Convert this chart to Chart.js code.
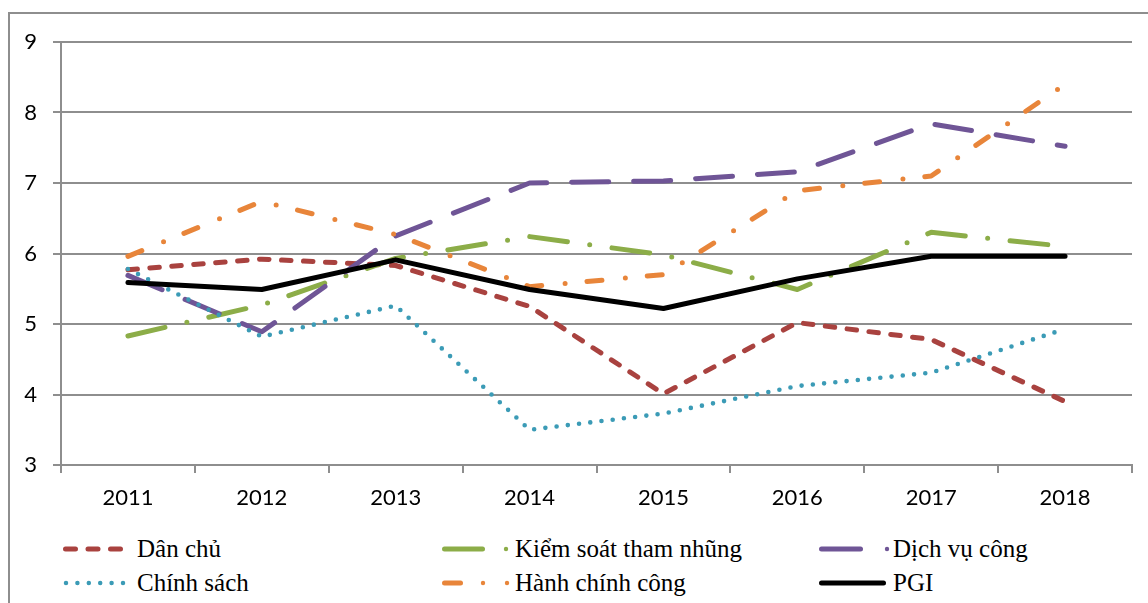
<!DOCTYPE html>
<html>
<head>
<meta charset="utf-8">
<script src="https://cdn.jsdelivr.net/npm/chart.js@4.4.1/dist/chart.umd.min.js"></script>
<style>
html,body{margin:0;padding:0;background:#fff;}
#wrap{position:relative;width:1148px;height:603px;overflow:hidden;}
#frame{position:absolute;left:8px;top:12px;width:1200px;height:700px;border-left:2px solid #8e8e8e;border-top:2px solid #8e8e8e;}
#box{position:absolute;left:0;top:0;width:1148px;height:520px;}
.item{position:absolute;height:34px;line-height:34px;font-family:"Liberation Serif","Times New Roman",serif;font-size:25px;color:#000;white-space:nowrap;}
</style>
</head>
<body>
<div id="wrap">
  <div id="frame"></div>
  <div id="box"><canvas id="c"></canvas></div>
  <div id="legend"></div>
</div>
<script>
// data
const years = ['2011', '2012', '2013', '2014', '2015', '2016', '2017', '2018'];
const danChu     = [5.77, 5.92, 5.83, 5.25, 4.01, 5.02, 4.78, 3.90];
const kiemSoat   = [4.83, 5.27, 5.93, 6.24, 5.98, 5.49, 6.30, 6.10];
const dichVu     = [5.69, 4.89, 6.25, 7.00, 7.03, 7.16, 7.84, 7.52];
const chinhSach  = [5.78, 4.82, 5.26, 3.50, 3.73, 4.12, 4.31, 4.93];
const hanhChinh  = [5.96, 6.74, 6.27, 5.53, 5.70, 6.89, 7.10, 8.40];
const pgi        = [5.59, 5.49, 5.91, 5.49, 5.22, 5.64, 5.96, 5.96];
const yTicks = [3, 4, 5, 6, 7, 8, 9];

const names = ['Dân chủ', 'Kiểm soát tham nhũng', 'Dịch vụ công', 'Chính sách', 'Hành chính công', 'PGI'];
const values = [danChu, kiemSoat, dichVu, chinhSach, hanhChinh, pgi];

// styles
const colors = ['#A9423F', '#8CAD48', '#6F5596', '#3B9BB6', '#E8853A', '#000000'];
const widths = [5, 5, 5, 4.6, 5, 5];
const dashes = [[9.5, 12.5], [38, 22.5, 0, 22.5], [37, 25], [0, 11.3], [15, 23.5, 0, 22], []];

const gridColor = '#8e8e8e';

const datasets = names.map((n, i) => ({
  label: n,
  data: values[i],
  borderColor: colors[i],
  backgroundColor: colors[i],
  borderWidth: widths[i],
  borderDash: dashes[i],
  borderCapStyle: 'round',
  borderJoinStyle: 'round',
  pointRadius: 0,
  tension: 0,
  fill: false,
  order: names.length - i
}));

new Chart(document.getElementById('c'), {
  type: 'line',
  data: { labels: years, datasets },
  options: {
    responsive: true,
    maintainAspectRatio: false,
    animation: false,
    layout: { padding: { top: 42, right: 16, left: 0, bottom: 0 } },
    plugins: { legend: { display: false }, tooltip: { enabled: false } },
    scales: {
      x: {
        offset: true,
        grid: { offset: true, drawOnChartArea: false, drawTicks: true, tickLength: 8, color: gridColor, lineWidth: 2 },
        border: { color: gridColor, width: 2 },
        ticks: { color: '#000', padding: 12, maxRotation: 0, font: { family: 'Lato', size: 22 } },
        afterFit: s => { s.height = 55; }
      },
      y: {
        min: 3, max: 9,
        afterBuildTicks: s => { s.ticks = yTicks.map(v => ({ value: v })); },
        grid: { color: gridColor, lineWidth: 2, tickLength: 8 },
        border: { color: gridColor, width: 2 },
        ticks: { color: '#000', padding: 16, font: { family: 'Lato', size: 22 } },
        afterFit: s => { s.width = 61; }
      }
    }
  }
});

// legend, 3 columns x 2 rows like the original
const colX = [63, 442, 819];
const textX = [137, 515, 893];
const rowTop = [532, 566];
const samples = [
  { lines: [[2.5, 59.5, '10 12.5']], dots: [] },
  { lines: [[2.5, 40.5, '']], dots: [64] },
  { lines: [[2.5, 41.5, '']], dots: [68] },
  { lines: [[3, 60, '0 11.4']], dots: [] },
  { lines: [[2.5, 18.5, '']], dots: [41, 65] },
  { lines: [[2.5, 64.5, '']], dots: [] }
];
const leg = document.getElementById('legend');
names.forEach((n, i) => {
  const c = i % 3, r = Math.floor(i / 3);
  const w = textX[c] - colX[c];
  let svg = `<svg width="${w}" height="34" style="position:absolute;left:${colX[c]}px;top:${rowTop[r]}px">`;
  samples[i].lines.forEach(l => {
    svg += `<line x1="${l[0]}" y1="17" x2="${l[1]}" y2="17" stroke="${colors[i]}" stroke-width="${i === 3 ? 4.5 : 5}" stroke-linecap="round"${l[2] ? ` stroke-dasharray="${l[2]}"` : ''}/>`;
  });
  samples[i].dots.forEach(d => {
    svg += `<circle cx="${d}" cy="17" r="2.2" fill="${colors[i]}"/>`;
  });
  svg += '</svg>';
  leg.insertAdjacentHTML('beforeend', svg +
    `<div class="item" style="left:${textX[c]}px;top:${rowTop[r]}px">${n}</div>`);
});
</script>
</body>
</html>
